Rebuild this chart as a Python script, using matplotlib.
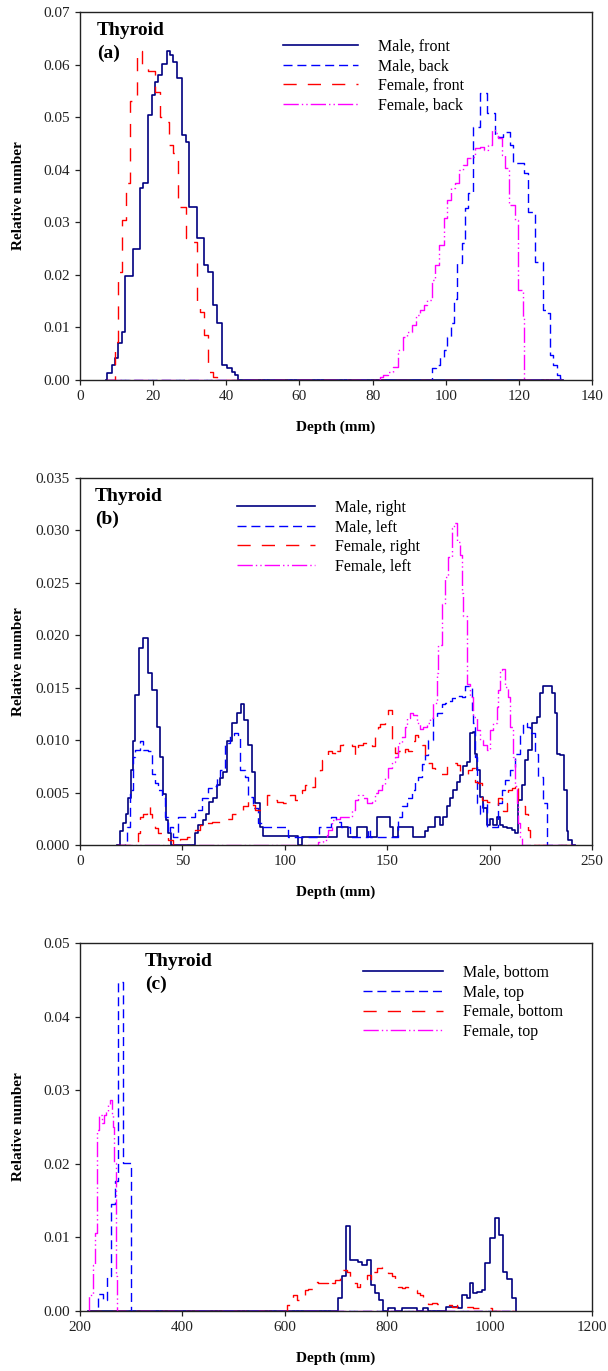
import matplotlib
matplotlib.use("Agg")
import matplotlib.pyplot as plt
from matplotlib.ticker import FormatStrFormatter

plt.rcParams['font.family'] = ['Liberation Serif', 'DejaVu Serif']
plt.rcParams['lines.scale_dashes'] = False

# ---- panel (a): front / back ----
a_male_front_x = [7.3, 8.7, 9.6, 10.5, 11.4, 12.3, 14.6, 16.4, 17.3, 18.7, 19.6, 20.5, 21.4, 22.3,
                  23.7, 24.6, 25.5, 26.4, 27.8, 29.0, 29.9, 31.9, 33.9, 35.1, 36.3, 37.4, 38.7,
                  40.1, 41.5, 42.4, 43.3]
a_male_front_y = [0.0013, 0.0029, 0.0041, 0.0070, 0.0092, 0.0197, 0.0250, 0.0365, 0.0374, 0.0504,
                  0.0542, 0.0567, 0.0580, 0.0602, 0.0625, 0.0618, 0.0605, 0.0574, 0.0466, 0.0453,
                  0.0330, 0.0270, 0.0219, 0.0206, 0.0143, 0.0108, 0.0029, 0.0022, 0.0016, 0.0010]
a_male_back_x = [96.2, 97.3, 98.4, 99.4, 100.3, 101.4, 102.3, 103.2, 104.4, 105.3, 106.2, 107.4,
                 109.4, 111.4, 113.5, 114.4, 115.8, 117.6, 118.5, 121.4, 122.6, 124.4, 126.5,
                 127.6, 128.5, 129.4, 130.3, 131.3, 131.7]
a_male_back_y = [0.0022, 0.0029, 0.0044, 0.0057, 0.0082, 0.0108, 0.0155, 0.0222, 0.0260, 0.0327,
                 0.0355, 0.0482, 0.0545, 0.0507, 0.0466, 0.0463, 0.0472, 0.0447, 0.0412, 0.0393,
                 0.0320, 0.0225, 0.0133, 0.0127, 0.0048, 0.0029, 0.0010, 0.0004]
a_female_front_x = [9.6, 10.5, 11.4, 12.5, 13.7, 15.5, 16.9, 18.7, 20.5, 21.9, 23.2, 24.4, 25.5,
                    26.9, 29.0, 30.5, 31.9, 32.8, 33.9, 35.1, 36.5, 37.4]
a_female_front_y = [0.0073, 0.0206, 0.0304, 0.0374, 0.0530, 0.0625, 0.0600, 0.0587, 0.0548, 0.0501,
                    0.0491, 0.0447, 0.0431, 0.0330, 0.0270, 0.0263, 0.0146, 0.0130, 0.0086, 0.0016,
                    0.0006]
a_female_back_x = [82.0, 82.9, 84.3, 85.7, 87.0, 88.4, 89.5, 90.7, 91.9, 93.0, 94.1, 95.0, 96.2,
                   97.1, 98.3, 99.4, 100.3, 101.4, 102.5, 103.7, 104.6, 105.7, 106.8, 108.0, 109.4,
                   110.5, 111.6, 112.6, 113.5, 114.4, 115.3, 116.2, 117.4, 118.9, 119.9, 121.0, 121.4]
a_female_back_y = [0.0005, 0.0010, 0.0016, 0.0025, 0.0057, 0.0082, 0.0092, 0.0105, 0.0124, 0.0133,
                   0.0143, 0.0152, 0.0190, 0.0219, 0.0257, 0.0308, 0.0342, 0.0365, 0.0374, 0.0400,
                   0.0409, 0.0422, 0.0425, 0.0441, 0.0444, 0.0438, 0.0447, 0.0476, 0.0469, 0.0460,
                   0.0428, 0.0403, 0.0333, 0.0304, 0.0171, 0.0117]

# ---- panel (b): right / left ----
b_male_right_x = [19.5, 20.8, 22.3, 23.6, 24.7, 26.0, 26.9, 29.0, 30.9, 33.4, 35.0, 37.4, 39.1,
                  40.7, 42.0, 43.1, 44.3, 56.2, 57.8, 59.9, 61.5, 63.2, 64.8, 66.7, 68.4, 70.0,
                  71.6, 74.1, 76.5, 78.4, 80.1, 82.2, 83.8, 85.4, 87.9, 89.5, 106.6, 108.2, 125.3,
                  131.0, 135.1, 140.0, 144.8, 151.4, 153.0, 155.4, 161.1, 162.8, 168.5, 170.1,
                  173.4, 175.8, 177.4, 179.0, 180.7, 182.3, 183.9, 185.6, 187.2, 188.8, 190.4,
                  192.0, 193.0, 193.7, 195.3, 197.0, 198.6, 200.2, 201.8, 203.5, 205.1, 206.7,
                  208.3, 210.8, 212.4, 214.0, 215.7, 217.3, 218.9, 220.6, 223.0, 224.6, 226.3,
                  230.3, 232.0, 232.8, 234.4, 236.4, 237.7, 238.5, 240.1]
b_male_right_y = [0.0013, 0.0021, 0.0030, 0.0045, 0.0072, 0.0099, 0.0143, 0.0188, 0.0197, 0.0164,
                  0.0148, 0.0113, 0.0084, 0.0049, 0.0024, 0.0011, 0.0, 0.0011, 0.0019, 0.0024,
                  0.0030, 0.0041, 0.0045, 0.0057, 0.0064, 0.0070, 0.0099, 0.0116, 0.0126, 0.0134,
                  0.0119, 0.0095, 0.0070, 0.0040, 0.0017, 0.0009, 0.0, 0.0008, 0.0017, 0.0008,
                  0.0017, 0.0008, 0.0027, 0.0017, 0.0008, 0.0017, 0.0017, 0.0008, 0.0013, 0.0017,
                  0.0027, 0.0019, 0.0027, 0.0037, 0.0045, 0.0052, 0.0060, 0.0067, 0.0075, 0.0079,
                  0.0107, 0.0108, 0.0087, 0.0072, 0.0046, 0.0035, 0.0019, 0.0025, 0.0019, 0.0027,
                  0.0019, 0.0017, 0.0016, 0.0014, 0.0011, 0.0043, 0.0057, 0.0081, 0.0091, 0.0116,
                  0.0122, 0.0145, 0.0152, 0.0145, 0.0126, 0.0087, 0.0086, 0.0052, 0.0013, 0.0005]
b_male_left_x = [22.0, 22.8, 24.4, 26.0, 26.9, 29.3, 30.9, 33.4, 35.0, 36.6, 38.2, 39.9, 41.5,
                 43.1, 43.9, 45.6, 48.0, 56.2, 59.4, 62.7, 65.1, 66.7, 68.4, 70.8, 73.2, 75.2,
                 77.3, 78.1, 80.6, 82.2, 84.6, 87.1, 89.5, 101.4, 116.9, 122.6, 125.1, 127.6,
                 131.6, 140.6, 141.4, 155.4, 157.1, 159.5, 161.9, 163.6, 165.2, 166.8, 168.5,
                 170.1, 172.5, 174.2, 176.6, 178.2, 179.9, 181.5, 183.9, 186.4, 188.0, 191.3,
                 192.1, 192.9, 193.7, 195.3, 197.0, 198.6, 204.3, 205.9, 207.6, 210.0, 212.4,
                 214.8, 216.5, 218.1, 219.7, 222.2, 223.8, 226.3, 227.9]
b_male_left_y = [0.0003, 0.0017, 0.0052, 0.0084, 0.0091, 0.0099, 0.0091, 0.0090, 0.0068, 0.0059,
                 0.0052, 0.0045, 0.0027, 0.0011, 0.0017, 0.0008, 0.0027, 0.0033, 0.0045, 0.0054,
                 0.0056, 0.0064, 0.0072, 0.0097, 0.0105, 0.0107, 0.0103, 0.0072, 0.0065, 0.0046,
                 0.0035, 0.0021, 0.0017, 0.0008, 0.0017, 0.0027, 0.0022, 0.0017, 0.0008, 0.0015,
                 0.0008, 0.0027, 0.0037, 0.0045, 0.0052, 0.0060, 0.0065, 0.0077, 0.0086, 0.0100,
                 0.0122, 0.0126, 0.0134, 0.0135, 0.0137, 0.0140, 0.0142, 0.0141, 0.0152, 0.0129,
                 0.0116, 0.0084, 0.0040, 0.0030, 0.0040, 0.0017, 0.0040, 0.0052, 0.0062, 0.0072,
                 0.0087, 0.0107, 0.0116, 0.0113, 0.0107, 0.0087, 0.0065, 0.0040]
b_female_right_x = [26.9, 28.5, 29.3, 30.9, 32.6, 34.2, 35.0, 36.6, 38.2, 39.9, 41.5, 43.1, 45.6,
                    47.2, 48.8, 52.1, 56.2, 58.6, 60.2, 61.8, 64.3, 68.4, 71.6, 74.1, 76.5, 79.8,
                    82.2, 83.8, 85.4, 89.5, 91.1, 92.8, 96.0, 99.3, 100.9, 102.5, 105.0, 106.6,
                    108.2, 109.9, 111.5, 113.1, 114.8, 116.4, 117.2, 118.0, 119.7, 121.3, 122.9,
                    124.5, 125.3, 127.0, 128.6, 130.2, 132.7, 134.3, 135.9, 138.4, 140.8, 142.4,
                    144.1, 145.7, 146.5, 149.0, 150.6, 152.2, 153.8, 155.5, 157.1, 158.7, 160.4,
                    162.0, 163.6, 165.2, 166.8, 168.5, 170.1, 171.7, 173.4, 175.8, 179.0, 182.3,
                    184.0, 185.5, 187.2, 189.6, 191.3, 192.9, 194.5, 196.2, 198.6, 201.0, 202.7,
                    204.3, 206.0, 206.7, 208.3, 209.2, 210.8, 212.4, 214.0, 215.7, 217.3, 218.9,
                    219.7]
b_female_right_y = [0.0003, 0.0011, 0.0027, 0.0030, 0.0037, 0.0030, 0.0021, 0.0016, 0.0011, 0.0010,
                    0.0008, 0.0005, 0.0, 0.0005, 0.0006, 0.0008, 0.0014, 0.0019, 0.0017, 0.0021,
                    0.0022, 0.0022, 0.0025, 0.0030, 0.0032, 0.0037, 0.0043, 0.0038, 0.0033, 0.0037,
                    0.0048, 0.0043, 0.0041, 0.0040, 0.0043, 0.0048, 0.0043, 0.0050, 0.0052, 0.0057,
                    0.0059, 0.0055, 0.0065, 0.0070, 0.0072, 0.0081, 0.0086, 0.0090, 0.0088, 0.0084,
                    0.0090, 0.0095, 0.0097, 0.0097, 0.0094, 0.0086, 0.0095, 0.0097, 0.0099, 0.0094,
                    0.0105, 0.0113, 0.0115, 0.0124, 0.0129, 0.0095, 0.0088, 0.0090, 0.0086, 0.0092,
                    0.0090, 0.0099, 0.0105, 0.0103, 0.0095, 0.0085, 0.0078, 0.0073, 0.0072, 0.0068,
                    0.0076, 0.0078, 0.0076, 0.0070, 0.0068, 0.0072, 0.0073, 0.0060, 0.0059, 0.0043,
                    0.0041, 0.0040, 0.0038, 0.0045, 0.0038, 0.0032, 0.0040, 0.0052, 0.0054, 0.0059,
                    0.0041, 0.0037, 0.0030, 0.0014]
b_female_left_x = [116.4, 118.8, 120.4, 121.3, 122.9, 124.5, 127.0, 130.2, 132.7, 134.3, 135.9,
                   138.4, 140.0, 142.4, 144.1, 145.7, 147.3, 149.0, 150.6, 152.2, 153.8, 155.4,
                   157.1, 158.7, 159.8, 161.1, 162.8, 164.4, 166.0, 167.6, 169.3, 170.9, 172.5,
                   174.2, 175.0, 176.6, 178.2, 179.9, 181.5, 182.6, 183.9, 185.6, 186.4, 187.2,
                   188.8, 190.4, 192.1, 193.7, 195.3, 197.0, 198.6, 200.2, 201.8, 203.5, 204.3,
                   205.1, 205.9, 207.6, 209.2, 210.0, 211.6, 212.4, 213.2, 214.0, 214.8, 215.6]
b_female_left_y = [0.0003, 0.0005, 0.0010, 0.0014, 0.0024, 0.0025, 0.0027, 0.0027, 0.0033, 0.0043,
                   0.0048, 0.0045, 0.0040, 0.0041, 0.0050, 0.0052, 0.0057, 0.0064, 0.0073, 0.0079,
                   0.0084, 0.0097, 0.0103, 0.0113, 0.0121, 0.0126, 0.0124, 0.0116, 0.0111, 0.0113,
                   0.0116, 0.0121, 0.0135, 0.0164, 0.0191, 0.0230, 0.0256, 0.0275, 0.0302, 0.0307,
                   0.0289, 0.0277, 0.0240, 0.0218, 0.0154, 0.0141, 0.0122, 0.0110, 0.0100, 0.0095,
                   0.0091, 0.0110, 0.0116, 0.0132, 0.0148, 0.0167, 0.0168, 0.0151, 0.0141, 0.0113,
                   0.0084, 0.0056, 0.0040, 0.0021, 0.0008]

# ---- panel (c): bottom / top ----
c_male_bottom_x = [704.6, 711.0, 719.5, 727.3, 743.6, 750.0, 760.0, 767.7, 776.2, 784.6, 792.4,
                   802.2, 815.2, 828.3, 857.6, 870.6, 880.4, 914.0, 938.8, 945.4, 955.3, 961.7,
                   968.2, 974.8, 984.6, 991.0, 1000.8, 1010.5, 1019.0, 1026.8, 1034.6, 1043.2,
                   1051.6]
c_male_bottom_y = [0.0017, 0.0047, 0.0115, 0.0069, 0.0066, 0.0063, 0.0069, 0.0035, 0.0024, 0.0015,
                   0.0, 0.0004, 0.0, 0.0004, 0.0, 0.0004, 0.0, 0.0005, 0.0004, 0.0022, 0.0017,
                   0.0038, 0.0024, 0.0026, 0.0029, 0.0065, 0.0099, 0.0126, 0.0103, 0.0053, 0.0044,
                   0.0017]
c_male_top_x = [235.8, 245.6, 252.1, 260.5, 268.4, 274.9, 284.6, 299.0]
c_male_top_y = [0.0023, 0.0015, 0.0047, 0.0146, 0.0176, 0.0447, 0.0201]
c_female_bottom_x = [603.6, 610.0, 616.7, 623.0, 629.7, 639.5, 646.0, 655.7, 665.5, 675.3, 685.0,
                     691.5, 698.0, 707.8, 713.0, 720.8, 727.3, 733.9, 740.4, 746.9, 753.4, 760.0,
                     767.7, 773.0, 780.7, 789.2, 795.7, 802.2, 808.7, 815.2, 821.7, 828.3, 834.8,
                     841.3, 857.6, 864.0, 870.6, 880.4, 886.9, 896.6, 906.4, 916.1, 925.9, 935.7,
                     945.4, 955.2, 968.2, 981.2, 994.3, 1004.0]
c_female_bottom_y = [0.0008, 0.0015, 0.0022, 0.0015, 0.0019, 0.0029, 0.0030, 0.0040, 0.0038, 0.0038,
                     0.0033, 0.0038, 0.0042, 0.0047, 0.0056, 0.0053, 0.0042, 0.0038, 0.0033, 0.0038,
                     0.0044, 0.0049, 0.0042, 0.0053, 0.0058, 0.0060, 0.0056, 0.0051, 0.0047, 0.0040,
                     0.0033, 0.0031, 0.0033, 0.0029, 0.0024, 0.0022, 0.0015, 0.0010, 0.0011, 0.0010,
                     0.0010, 0.0008, 0.0006, 0.0008, 0.0006, 0.0006, 0.0004, 0.0004, 0.0004]
c_female_top_x = [218.2, 224.7, 229.3, 233.9, 237.8, 242.3, 246.9, 250.8, 255.3, 258.6, 261.8,
                  265.1, 267.1, 270.3, 272.9]
c_female_top_y = [0.0022, 0.0063, 0.0106, 0.0246, 0.0266, 0.0255, 0.0266, 0.0272, 0.0280, 0.0287,
                  0.0266, 0.0250, 0.0201, 0.0047]

labels_a = ['Male, front', 'Male, back', 'Female, front', 'Female, back']
labels_b = ['Male, right', 'Male, left', 'Female, right', 'Female, left']
labels_c = ['Male, bottom', 'Male, top', 'Female, bottom', 'Female, top']

colors = ['#000080', '#0000ff', '#ff0000', '#ff00ff']
styles = ['-', (0, (6.5, 3.5)), (0, (9.5, 8.0)), (0, (11, 2.2, 1, 2.2, 1, 2.2))]
widths = [1.2, 1.0, 1.0, 1.0]


def hist_line(ax, edges, vals, lo, hi, k, label):
    # step outline padded with zeros so the curve runs along the baseline
    x = [lo] + list(edges) + [hi]
    y = [0] + list(vals) + [0, 0]
    ax.step(x, y, where='post', color=colors[k], ls=styles[k], lw=widths[k], label=label)


fig = plt.figure(figsize=(6.08, 13.71), dpi=100)
W, H = 608.0, 1371.0
boxes = [(12, 380), (478, 845), (943, 1311)]
axs = [fig.add_axes([80 / W, 1 - b / H, 512 / W, (b - t) / H]) for t, b in boxes]

panels = [
    (axs[0], [(a_male_front_x, a_male_front_y), (a_male_back_x, a_male_back_y),
              (a_female_front_x, a_female_front_y), (a_female_back_x, a_female_back_y)],
     labels_a, (0, 140), 20, (0, 0.07), 0.01, '%.2f', 7, 132, '(a)', 0.033, (0.396, 0.927), 4.9),
    (axs[1], [(b_male_right_x, b_male_right_y), (b_male_left_x, b_male_left_y),
              (b_female_right_x, b_female_right_y), (b_female_left_x, b_female_left_y)],
     labels_b, (0, 250), 50, (0, 0.035), 0.005, '%.3f', 18, 241.5, '(b)', 0.029, (0.307, 0.94), 5.1),
    (axs[2], [(c_male_bottom_x, c_male_bottom_y), (c_male_top_x, c_male_top_y),
              (c_female_bottom_x, c_female_bottom_y), (c_female_top_x, c_female_top_y)],
     labels_c, (200, 1200), 200, (0, 0.05), 0.01, '%.2f', 216, 1052.5, '(c)', 0.127, (0.553, 0.94), 5.2),
]

for ax, series, labels, xl, xs, yl, ys, fmt, lo, hi, tag, tx, lpos, hl in panels:
    for k, (ex, vy) in enumerate(series):
        hist_line(ax, ex, vy, lo, hi, k, labels[k])
    ax.set_xlim(*xl)
    ax.set_ylim(*yl)
    n = int(round((xl[1] - xl[0]) / xs))
    ax.set_xticks([xl[0] + i * xs for i in range(n + 1)])
    m = int(round((yl[1] - yl[0]) / ys))
    ax.set_yticks([yl[0] + i * ys for i in range(m + 1)])
    ax.yaxis.set_major_formatter(FormatStrFormatter(fmt))
    ax.tick_params(direction='out', length=3.5, width=0.9, pad=4, labelsize=11, colors='#222222')
    for s in ax.spines.values():
        s.set_linewidth(1.0)
        s.set_color('#222222')
    ax.set_xlabel('Depth (mm)', fontsize=11, fontweight='bold')
    ax.set_ylabel('Relative number', fontsize=11, fontweight='bold')
    ax.xaxis.set_label_coords(0.5, -0.11)
    ax.yaxis.set_label_coords(-0.107, 0.5)
    ax.text(tx, 0.95, 'Thyroid', transform=ax.transAxes, fontsize=14, fontweight='bold',
            ha='left', va='center')
    ax.text(tx, 0.887, tag, transform=ax.transAxes, fontsize=14, fontweight='bold',
            ha='left', va='center')
    ax.legend(loc='upper left', bbox_to_anchor=lpos, frameon=False, fontsize=11.5,
              handlelength=hl * 11 / 11.5, handletextpad=1.25, labelspacing=0.22, borderpad=0,
              borderaxespad=0)

fig.savefig('out.png', dpi=100)
